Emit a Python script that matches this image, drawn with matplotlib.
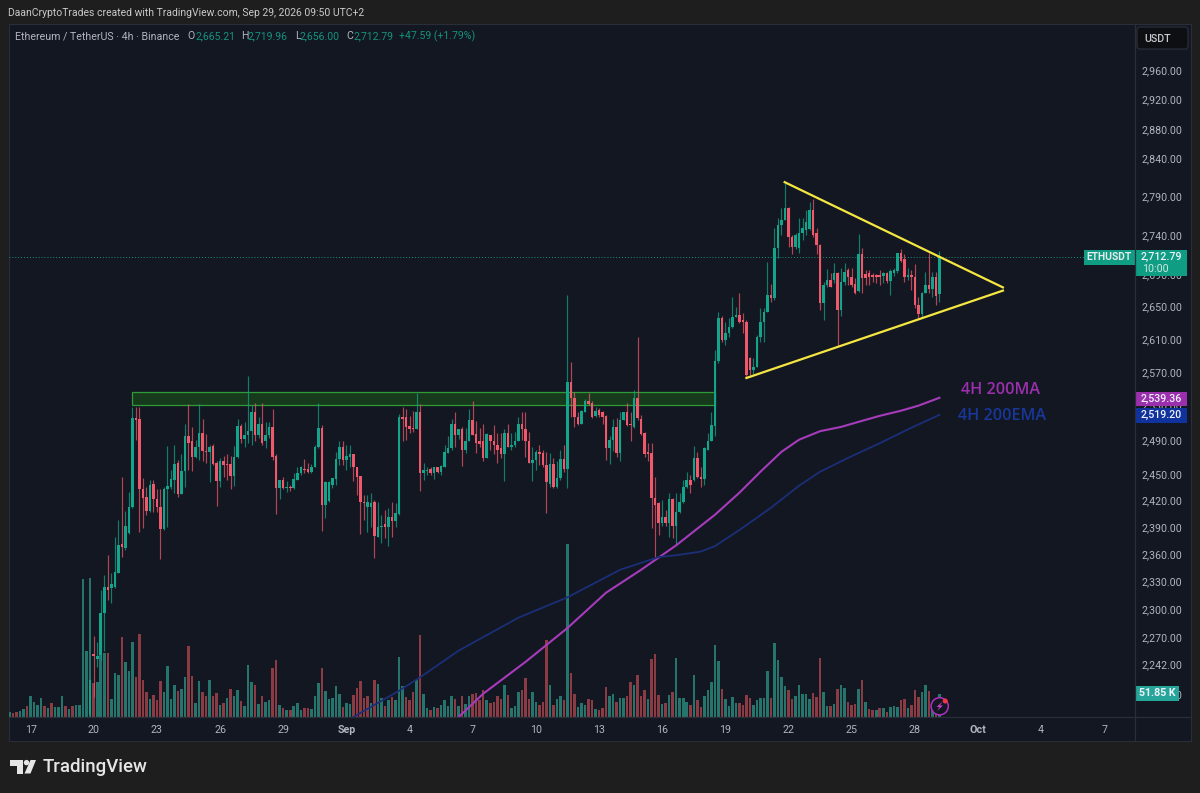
import numpy as np
import matplotlib
matplotlib.use("Agg")
import matplotlib.pyplot as plt
from matplotlib.patches import Rectangle, Polygon, Circle, FancyBboxPatch

plt.rcParams['font.family'] = ['Roboto', 'DejaVu Sans']

# --- candles, 4h bars, bar index 23 .. 265 ---
first_bar = 23
opens = [
 2190,2252,2247,2251,2296,2324,2323,2324,2340,2371,
 2367,2384,2413,2515,2514,2433,2424,2408,2439,2422,
 2413,2388,2433,2436,2444,2463,2428,2454,2494,2488,
 2470,2481,2498,2477,2476,2483,2463,2442,2465,2462,
 2462,2448,2470,2506,2491,2496,2500,2522,2496,2509,
 2488,2496,2505,2471,2434,2443,2434,2436,2434,2444,
 2452,2456,2456,2453,2459,2481,2504,2415,2420,2438,
 2445,2468,2481,2466,2470,2473,2459,2448,2418,2413,
 2413,2419,2379,2390,2394,2390,2402,2397,2405,2517,
 2517,2506,2504,2503,2523,2451,2454,2456,2452,2458,
 2453,2459,2475,2480,2509,2496,2502,2478,2489,2513,
 2497,2488,2488,2469,2496,2489,2484,2480,2474,2498,
 2481,2484,2488,2509,2502,2489,2463,2467,2476,2475,
 2461,2439,2462,2436,2446,2468,2456,2558,2539,2517,
 2509,2523,2536,2533,2518,2525,2523,2518,2480,2490,
 2505,2475,2513,2523,2508,2505,2539,2514,2498,2476,
 2475,2423,2417,2395,2402,2395,2422,2391,2407,2418,
 2436,2444,2443,2469,2447,2445,2478,2488,2506,2583,
 2636,2609,2618,2625,2637,2640,2634,2631,2587,2573,
 2576,2613,2631,2643,2664,2661,2724,2753,2760,2775,
 2738,2725,2724,2743,2747,2748,2773,2743,2727,2654,
 2677,2683,2683,2692,2646,2681,2696,2687,2678,2669,
 2716,2691,2692,2690,2690,2690,2688,2692,2682,2692,
 2695,2717,2710,2687,2690,2687,2652,2641,2667,2677,
 2672,2687,2665.21]
highs = [
 2226,2272,2265,2321,2337,2359,2340,2379,2398,2447,
 2408,2430,2528,2528,2528,2446,2436,2444,2444,2433,
 2433,2436,2483,2455,2484,2467,2473,2508,2532,2505,
 2490,2532,2514,2497,2484,2485,2465,2469,2471,2474,
 2471,2483,2514,2509,2511,2565,2531,2533,2517,2533,
 2511,2511,2526,2473,2444,2447,2442,2438,2452,2458,
 2460,2468,2463,2462,2484,2533,2507,2442,2442,2446,
 2476,2489,2488,2484,2484,2473,2459,2448,2427,2427,
 2429,2421,2419,2404,2409,2412,2419,2417,2520,2528,
 2526,2518,2524,2545,2532,2463,2459,2458,2459,2459,
 2461,2484,2494,2514,2523,2503,2505,2504,2526,2536,
 2512,2504,2509,2498,2496,2507,2498,2498,2502,2509,
 2498,2499,2517,2523,2522,2499,2482,2478,2484,2478,
 2476,2475,2469,2465,2478,2484,2664,2582,2546,2523,
 2525,2538,2545,2536,2528,2527,2524,2519,2494,2514,
 2515,2523,2522,2533,2522,2549,2613,2519,2499,2486,
 2486,2447,2418,2421,2409,2429,2423,2429,2429,2444,
 2453,2449,2483,2476,2459,2481,2498,2522,2597,2643,
 2638,2631,2636,2662,2650,2667,2642,2634,2588,2587,
 2615,2648,2648,2706,2678,2750,2762,2775,2808,2776,
 2740,2743,2762,2762,2773,2783,2787,2750,2729,2681,
 2697,2692,2705,2693,2699,2705,2699,2699,2686,2742,
 2724,2696,2696,2692,2691,2696,2693,2693,2697,2699,
 2717,2722,2716,2699,2696,2703,2662,2668,2693,2717,
 2693,2693,2719.96]
lows = [
 2175,2208,2239,2246,2256,2310,2307,2323,2339,2357,
 2365,2383,2412,2490,2385,2389,2404,2407,2407,2407,
 2355,2387,2390,2433,2429,2424,2428,2436,2455,2454,
 2469,2467,2465,2463,2441,2461,2414,2436,2447,2444,
 2433,2437,2469,2486,2482,2486,2484,2488,2492,2484,
 2480,2492,2467,2405,2422,2433,2430,2431,2433,2444,
 2449,2452,2452,2452,2459,2480,2386,2400,2419,2434,
 2438,2461,2461,2455,2459,2442,2427,2383,2398,2385,
 2390,2356,2379,2373,2378,2369,2379,2390,2404,2488,
 2490,2498,2499,2503,2431,2443,2449,2449,2445,2452,
 2449,2459,2475,2478,2482,2491,2460,2475,2488,2496,
 2475,2481,2465,2469,2478,2473,2463,2469,2442,2481,
 2478,2482,2488,2490,2470,2463,2442,2455,2461,2458,
 2406,2436,2434,2434,2444,2453,2434,2517,2505,2507,
 2508,2523,2531,2515,2517,2517,2509,2467,2462,2477,
 2470,2465,2513,2506,2488,2504,2513,2496,2470,2465,
 2389,2357,2381,2392,2392,2379,2378,2370,2406,2417,
 2434,2429,2442,2446,2436,2438,2478,2488,2494,2581,
 2607,2603,2613,2624,2637,2630,2618,2564,2567,2568,
 2576,2607,2607,2643,2656,2658,2711,2740,2760,2725,
 2716,2722,2717,2734,2740,2747,2738,2716,2646,2634,
 2674,2674,2679,2602,2638,2677,2677,2674,2666,2668,
 2667,2677,2677,2681,2679,2677,2679,2679,2664,2688,
 2692,2706,2681,2683,2671,2648,2636,2637,2667,2667,
 2662,2652,2656]
closes = [
 2225,2250,2250,2296,2324,2321,2327,2341,2370,2368,
 2392,2413,2515,2513,2433,2423,2408,2438,2422,2413,
 2388,2433,2437,2445,2462,2428,2454,2494,2486,2470,
 2481,2498,2477,2476,2482,2462,2442,2465,2461,2461,
 2448,2470,2506,2491,2496,2500,2522,2496,2509,2486,
 2496,2505,2470,2434,2443,2434,2436,2434,2445,2452,
 2459,2455,2453,2459,2481,2504,2415,2441,2441,2446,
 2468,2481,2466,2471,2473,2458,2447,2418,2417,2418,
 2417,2380,2390,2392,2390,2402,2397,2406,2517,2514,
 2505,2503,2502,2523,2451,2455,2455,2451,2458,2453,
 2460,2476,2480,2509,2496,2502,2478,2489,2513,2496,
 2486,2485,2469,2497,2488,2484,2478,2474,2498,2481,
 2484,2489,2509,2502,2488,2463,2467,2476,2473,2461,
 2441,2462,2436,2446,2468,2456,2558,2539,2517,2509,
 2524,2536,2532,2517,2524,2519,2517,2480,2490,2505,
 2475,2513,2522,2507,2507,2539,2515,2497,2473,2473,
 2423,2415,2395,2402,2395,2422,2391,2407,2418,2436,
 2444,2438,2469,2447,2445,2480,2489,2507,2583,2636,
 2609,2618,2625,2637,2640,2631,2631,2567,2573,2576,
 2613,2631,2643,2664,2661,2724,2753,2760,2775,2738,
 2725,2740,2743,2750,2757,2773,2740,2727,2654,2677,
 2683,2674,2692,2646,2681,2693,2687,2677,2667,2716,
 2686,2686,2687,2687,2687,2687,2692,2682,2695,2696,
 2717,2707,2687,2690,2687,2652,2641,2667,2677,2672,
 2687,2663,2712.79]

# --- volume in K, bar index 0 .. 265 ---
volumes = [
 10.5,9,10.5,13,18,25.5,46.5,34.5,27,43.5,
 25.5,21,31.5,22.5,22.5,46.5,24,18,25.5,28,
 28,310.5,148,313,76,78,144,144,144,40.5,
 99,95,179,123,103.5,168,90,187,84,57,
 40.5,49.5,37.5,80,55.5,114,40.5,73,58.5,63,
 90,160.5,93,31.5,80,55.5,48,82.5,46.5,54,
 28,31.5,43.5,63,46.5,61.5,36,25.5,118,79,
 73,30,46.5,34.5,37.5,109.5,127.5,28,21,16.5,
 16.5,24,31.5,15,20,20,18,48,76.5,109.5,
 59,40.5,43.5,70.5,51,22.5,31.5,30,49.5,65,
 81,42,48,31.5,84,75,43,25.5,39,45,
 39,135,70.5,45,39,55.5,84,184,52.5,21,
 16.5,22.5,20,28,39,24,48,40.5,24,48,
 30,48,52.5,54,39,60,37.5,31.5,33,48,
 40.5,73,49.5,20,24,57,61.5,88.5,40.5,55.5,
 34.5,28,33,174,73,28,40.5,48,39,389,
 99,51,22.5,31.5,28,40.5,39,18,16.5,20,
 67,48,52,34.5,43.5,43.5,48,79.5,73,94.5,
 48,60,40.5,131,141,49.5,30,31.5,49.5,57,
 132,42,43.5,34.5,28,94.5,37.5,22.5,48,61.5,
 79,163,125,63,41,25.5,45,31.5,31.5,26,
 49.5,42,28,37.5,43.5,42,104,43.5,166.5,129,
 90,70.5,61.5,40.5,48,73,51,52.5,41,53,
 45,133,55.5,25.5,24,30,64,73,65,34,
 28,30,64,82.5,34,18,15,16.5,20,21,
 10.5,22.5,24,22,37.5,40.5,20,28,60,45,
 55.5,71,59,30,31,51.85]
volume_down = [1,2,5,10,12,16,18,24,28,32,36,37,38,39,41,42,43,48,51,52,55,56,58,59,
 61,63,66,70,72,75,76,78,80,84,85,89,95,98,99,100,101,102,104,107,109,113,114,115,
 117,120,122,127,129,132,133,134,135,137,138,139,140,142,146,147,148,151,152,153,
 155,158,160,161,165,166,168,169,170,173,176,177,179,180,181,183,184,185,187,189,
 194,196,197,203,208,209,210,211,217,222,223,229,230,231,234,236,239,240,241,243,
 245,246,248,250,254,255,257,258,259,262,264]

# --- moving averages ---
ma_bars = [128,135,147,159,170,180,190,201,208,214,220,225,231,237,242,248,254,259,265]
ma_values = [2187,2211,2244,2280,2318,2343,2370,2404,2429,2453,2476,2490,2500,2505,2511,2518,2524,2530,2539.36]
ema_bars = [98,111,117,128,145,159,174,185,190,197,201,208,217,225,231,239,248,257,265]
ema_values = [2187,2214,2228,2256,2291,2313,2343,2357,2359,2363,2369,2387,2412,2437,2453,2469,2486,2504,2519.2]

# --- drawings ---
zone_bars = [35, 201]
zone_prices = [2531, 2546]
wedge_upper_bars = [220.9, 283.1]
wedge_upper_prices = [2809, 2674]
wedge_lower_bars = [210, 283.1]
wedge_lower_prices = [2563, 2670]
last_price = 2712.79

# --- axes labels ---
date_bars = [6,24,42,60,78,96,114,132,150,168,186,204,222,240,258,276,294,312]
date_labels = ['17','20','23','26','29','Sep','4','7','10','13','16','19','22','25','28','Oct','4','7']
price_ticks = [2960,2920,2880,2840,2790,2740,2690,2650,2610,2570,2530,2490,2450,2420,2390,2360,2330,2300,2270,2242,2210]

PANE = '#131722'
OUTER = '#1e1e1e'
BORDER = '#2a2e39'
TEXT = '#b2b5be'
UP = '#12a58b'
DOWN = '#f0596c'
VOL_UP = '#26756c'
VOL_DOWN = '#8a3b44'
W, H = 1200, 793

def pane_rect(x0, y0, x1, y1):
    return [x0 / W, 1 - y1 / H, (x1 - x0) / W, (y1 - y0) / H]

fig = plt.figure(figsize=(12, 7.93), dpi=100, facecolor=OUTER)

bg = fig.add_axes(pane_rect(9, 24, 1190.5, 741), zorder=0, facecolor=PANE)
bg.set_xticks([])
bg.set_yticks([])
for s in bg.spines.values():
    s.set_color(BORDER)

x_lim = (-0.15, 320.6)

# volume sits under the candles
vol = fig.add_axes(pane_rect(9, 24, 1134.5, 717), zorder=1)
vol.patch.set_alpha(0)
vol.axis('off')
vol_x = np.arange(len(volumes))
vol_colors = [VOL_DOWN if i in volume_down else VOL_UP for i in vol_x]
vol.bar(vol_x, volumes, width=0.72, color=vol_colors, linewidth=0)
vol.set_xlim(x_lim)
vol.set_ylim(0, 1559)

ax = fig.add_axes(pane_rect(9, 24, 1134.5, 717), zorder=2)
ax.patch.set_alpha(0)
ax.set_yscale('log')
ax.set_xlim(x_lim)
ax.set_ylim(2187, 3024.8)

bars = np.arange(first_bar, first_bar + len(opens))
o, h, l, c = np.array(opens), np.array(highs), np.array(lows), np.array(closes)
up = c >= o
colors = np.where(up, UP, DOWN)

ax.add_patch(Rectangle((zone_bars[0], zone_prices[0]), zone_bars[1] - zone_bars[0],
                       zone_prices[1] - zone_prices[0], facecolor='#173a1d', edgecolor='#2f9a38',
                       linewidth=0.9, zorder=1))
ax.vlines(bars, l, h, colors=colors, linewidth=0.85, alpha=0.72, zorder=3)
ax.bar(bars, np.abs(c - o), bottom=np.minimum(o, c), width=0.72, color=colors, linewidth=0, zorder=4)

ax.plot(ma_bars, ma_values, color='#a63bbb', linewidth=1.5, zorder=5)
ax.plot(ema_bars, ema_values, color='#1b2f78', linewidth=1.3, zorder=5)
ax.plot(wedge_upper_bars, wedge_upper_prices, color='#f5e642', linewidth=1.6, zorder=6)
ax.plot(wedge_lower_bars, wedge_lower_prices, color='#f5e642', linewidth=1.6, zorder=6)
ax.axhline(last_price, color='#1c8f7e', linewidth=0.7, linestyle=(0, (1, 2)), zorder=2)

ax.set_yticks(price_ticks)
ax.set_yticklabels([f'{p:,.2f}' for p in price_ticks])
ax.yaxis.set_minor_locator(plt.NullLocator())
ax.yaxis.set_minor_formatter(plt.NullFormatter())
ax.yaxis.tick_right()
ax.tick_params(axis='y', length=0, pad=5, labelsize=7.7, labelcolor=TEXT)
ax.set_xticks(date_bars)
ax.set_xticklabels(date_labels)
ax.tick_params(axis='x', length=0, pad=6, labelsize=7.7, labelcolor=TEXT)
for t in ax.get_xticklabels():
    if t.get_text() in ('Sep', 'Oct'):
        t.set_fontweight('bold')
for s in ax.spines.values():
    s.set_visible(False)

# overlay in picture pixels for the chrome
top = fig.add_axes([0, 0, 1, 1], zorder=3)
top.patch.set_alpha(0)
top.set_xlim(0, W)
top.set_ylim(H, 0)
top.axis('off')

def price_y(p):
    return H - ax.transData.transform((0, p))[1]

top.plot([1134.5, 1134.5], [24, 741], color=BORDER, linewidth=0.9)
top.plot([9, 1190.5], [717, 717], color=BORDER, linewidth=0.9)

# price boxes
y_last = price_y(last_price)
top.add_patch(Rectangle((1084, y_last - 6.5), 50.5, 14.5, facecolor='#0f9d84', linewidth=0))
top.text(1109, y_last + 0.6, 'ETHUSDT', color='#e8eaed', fontsize=7.4, ha='center', va='center', fontweight='bold')
top.add_patch(Rectangle((1135, y_last - 6.5), 51.5, 26, facecolor='#0f9d84', linewidth=0))
top.text(1161, y_last + 0.4, '2,712.79', color='#f0f3fa', fontsize=7.7, ha='center', va='center', fontweight='medium')
top.text(1155, y_last + 12.8, '10:00', color='#cfe7e2', fontsize=7.7, ha='center', va='center')

y_ma = price_y(ma_values[-1])
top.add_patch(Rectangle((1135, y_ma - 6.2), 51.5, 14.4, facecolor='#9b2fae', linewidth=0))
top.text(1161, y_ma + 0.9, '2,539.36', color='#f0f3fa', fontsize=7.7, ha='center', va='center', fontweight='medium')
y_ema = price_y(ema_values[-1])
top.add_patch(Rectangle((1135, y_ema - 6.8), 51.5, 15, facecolor='#10329c', linewidth=0))
top.text(1161, y_ema + 0.6, '2,519.20', color='#f0f3fa', fontsize=7.7, ha='center', va='center', fontweight='medium')
top.add_patch(Rectangle((1135, 686), 44, 14.7, facecolor='#26a69a', linewidth=0))
top.text(1157, 693.5, '51.85 K', color='#f0f3fa', fontsize=7.7, ha='center', va='center', fontweight='bold')

# USDT button
top.add_patch(FancyBboxPatch((1138.5, 28.5), 48, 19, boxstyle='round,pad=1.5,rounding_size=3',
                             facecolor='#0e0f13', edgecolor=BORDER, linewidth=0.9))
top.text(1157.5, 38.5, 'USDT', color='#c8c9ce', fontsize=7.7, ha='center', va='center', fontweight='medium')

# header and legend
top.text(8, 13, 'DaanCryptoTrades created with TradingView.com, Sep 29, 2026 09:50 UTC+2',
         color='#c9c9c9', fontsize=7.45, ha='left', va='center')
top.text(15, 36, 'Ethereum / TetherUS · 4h · Binance', color=TEXT, fontsize=7.7, ha='left', va='center')
legend_green = '#15917d'
for x, s, col in [(187, 'O', TEXT), (195, '2,665.21', legend_green), (241, 'H', TEXT), (248, '2,719.96', legend_green),
                  (295, 'L', TEXT), (300, '2,656.00', legend_green), (346, 'C', TEXT), (353, '2,712.79', legend_green),
                  (399, '+47.59 (+1.79%)', legend_green)]:
    top.text(x, 36, s, color=col, fontsize=7.6, ha='left', va='center')

# moving average captions
top.text(1000.5, 389.5, '4H 200MA', color='#9b2fae', fontsize=11.6, ha='center', va='center',
         family=['Open Sans', 'DejaVu Sans'], fontweight='semibold')
top.text(1002, 415.5, '4H 200EMA', color='#17379a', fontsize=11.6, ha='center', va='center',
         family=['Open Sans', 'DejaVu Sans'], fontweight='semibold')

# lightning badge
top.add_patch(Circle((939.7, 706.3), 8.6, facecolor=PANE, edgecolor='#b02fc0', linewidth=1.1, zorder=5))
top.add_patch(Polygon([[942.5, 701.5], [936.5, 707], [939.5, 707], [937, 711], [943, 705.5], [940, 705.5]],
                      facecolor='#c43fd0', linewidth=0, zorder=6))
top.add_patch(Circle((945.2, 701), 2.5, facecolor='#f23645', linewidth=0, zorder=7))

# TradingView logo
logo = '#e6e6e6'
top.add_patch(Polygon([[10, 760], [22.5, 760], [22.5, 773.5], [16.5, 773.5], [16.5, 765.5], [10, 765.5]], facecolor=logo, linewidth=0))
top.add_patch(Circle((26.5, 762.6), 2.7, facecolor=logo, linewidth=0))
top.add_patch(Polygon([[30.5, 760], [36, 760], [30.5, 773.5], [24.5, 773.5]], facecolor=logo, linewidth=0))
top.text(43, 767, 'TradingView', color=logo, fontsize=13.4, ha='left', va='center', fontweight='medium')

fig.savefig('out.png', dpi=100, facecolor=OUTER)
